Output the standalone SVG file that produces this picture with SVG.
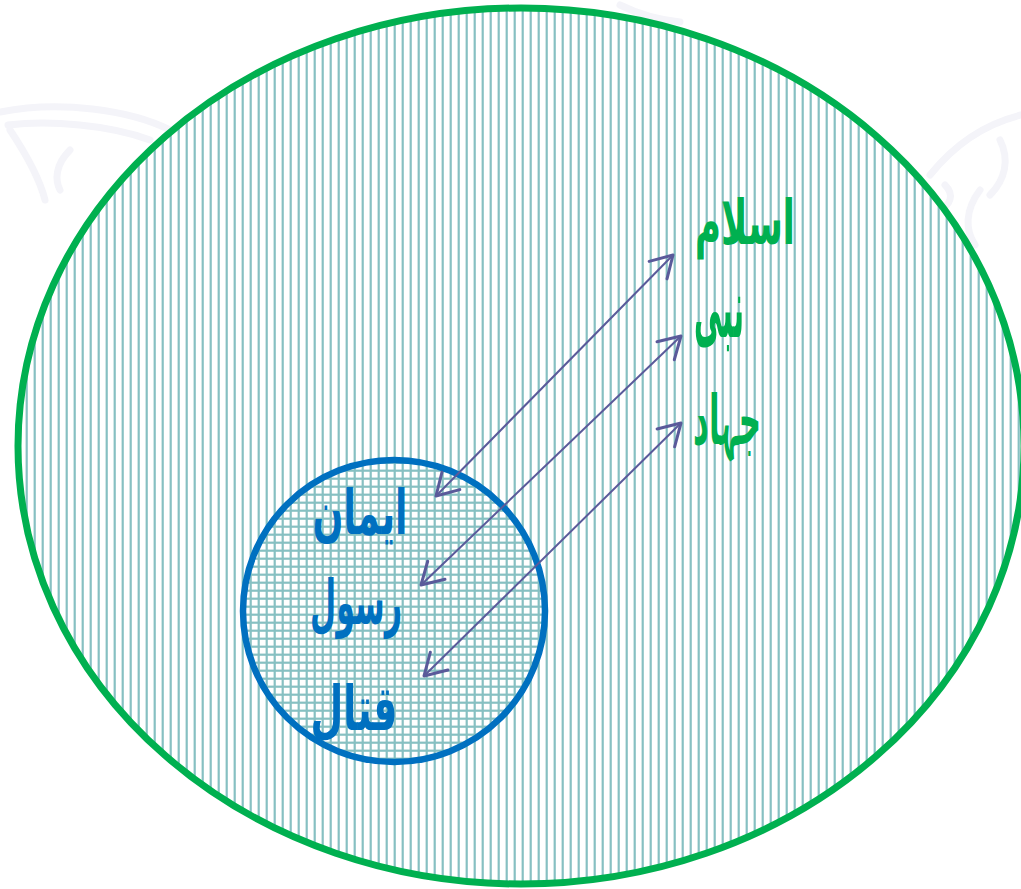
<svg xmlns="http://www.w3.org/2000/svg" width="1021" height="889" viewBox="0 0 1021 889">
  <defs>
    <pattern id="vlines" patternUnits="userSpaceOnUse" x="0" y="0" width="8" height="8">
      <rect width="8" height="8" fill="#ffffff"/>
      <line x1="2.7" y1="0" x2="2.7" y2="8" stroke="#86c0c2" stroke-width="2.2"/>
    </pattern>
    <pattern id="grid" patternUnits="userSpaceOnUse" x="0" y="0" width="8" height="8">
      <rect width="8" height="8" fill="#ffffff"/>
      <line x1="2.7" y1="0" x2="2.7" y2="8" stroke="#86c0c2" stroke-width="2.2"/>
      <line x1="0" y1="6.7" x2="8" y2="6.7" stroke="#86c0c2" stroke-width="2.2"/>
    </pattern>
    <marker id="head" markerUnits="userSpaceOnUse" markerWidth="30" markerHeight="30" viewBox="-20 -12 22 24" refX="0" refY="0" orient="auto-start-reverse">
      <path d="M -17 -10 L 0 0 L -17 10" fill="none" stroke="#5a5a9a" stroke-width="2.4" stroke-linecap="round" stroke-linejoin="round"/>
    </marker>
    <style>
      .wm { fill: none; stroke: #f4f4f9; stroke-width: 7; stroke-linecap: round; }
      .arrow { fill: none; stroke: #5a5a9a; stroke-width: 2; marker-start: url(#head); marker-end: url(#head); }
      .ur { font-family: "DejaVu Sans", "Noto Sans", sans-serif; font-weight: bold; direction: rtl; text-anchor: middle; }
      .green { fill: #00b050; font-size: 62px; }
      .blue { fill: #0070c0; font-size: 62px; }
    </style>
  </defs>

  <rect width="1021" height="889" fill="#ffffff"/>

  <g id="watermark">
    <path class="wm" d="M 0 112 C 60 100 130 110 170 130"/>
    <path class="wm" d="M 8 125 C 50 120 110 125 150 140"/>
    <path class="wm" d="M 10 130 C 30 160 40 180 45 200"/>
    <path class="wm" d="M 70 150 C 55 165 55 180 60 190"/>
    <path class="wm" d="M 1021 115 C 980 125 950 150 930 175"/>
    <path class="wm" d="M 1000 140 C 1010 160 1005 180 990 195"/>
    <path class="wm" d="M 980 190 C 965 210 965 230 975 245"/>
    <path class="wm" d="M 945 185 C 955 195 950 205 940 210"/>
    <path class="wm" d="M 620 5 C 640 15 660 20 680 22"/>
  </g>

  <g id="outer">
    <ellipse cx="521" cy="446" rx="503" ry="438" fill="url(#vlines)" stroke="#00b050" stroke-width="7"/>
  </g>

  <g id="inner">
    <circle cx="394" cy="611" r="151" fill="url(#grid)" stroke="#0070c0" stroke-width="6.5"/>
  </g>

  <g id="connectors">
    <line class="arrow" x1="436" y1="496" x2="673" y2="255"/>
    <line class="arrow" x1="421" y1="585" x2="681" y2="336"/>
    <line class="arrow" x1="424" y1="676" x2="681" y2="423"/>
  </g>

  <g id="label-islam">
    <text class="ur green" x="745" y="244" textLength="100" lengthAdjust="spacingAndGlyphs">اسلام</text>
  </g>
  <g id="label-nabi">
    <text class="ur green" x="719" y="337" style="font-size:84px" textLength="50" lengthAdjust="spacingAndGlyphs">نبی</text>
  </g>
  <g id="label-jihad">
    <text class="ur green" x="727" y="444" style="font-size:68px" textLength="68" lengthAdjust="spacingAndGlyphs">جہاد</text>
  </g>
  <g id="label-iman">
    <text class="ur blue" x="360" y="534" textLength="95" lengthAdjust="spacingAndGlyphs">ایمان</text>
  </g>
  <g id="label-rasool">
    <text class="ur blue" x="356" y="624" textLength="92" lengthAdjust="spacingAndGlyphs">رسول</text>
  </g>
  <g id="label-qital">
    <text class="ur blue" x="354" y="730" textLength="87" lengthAdjust="spacingAndGlyphs">قتال</text>
  </g>
</svg>
